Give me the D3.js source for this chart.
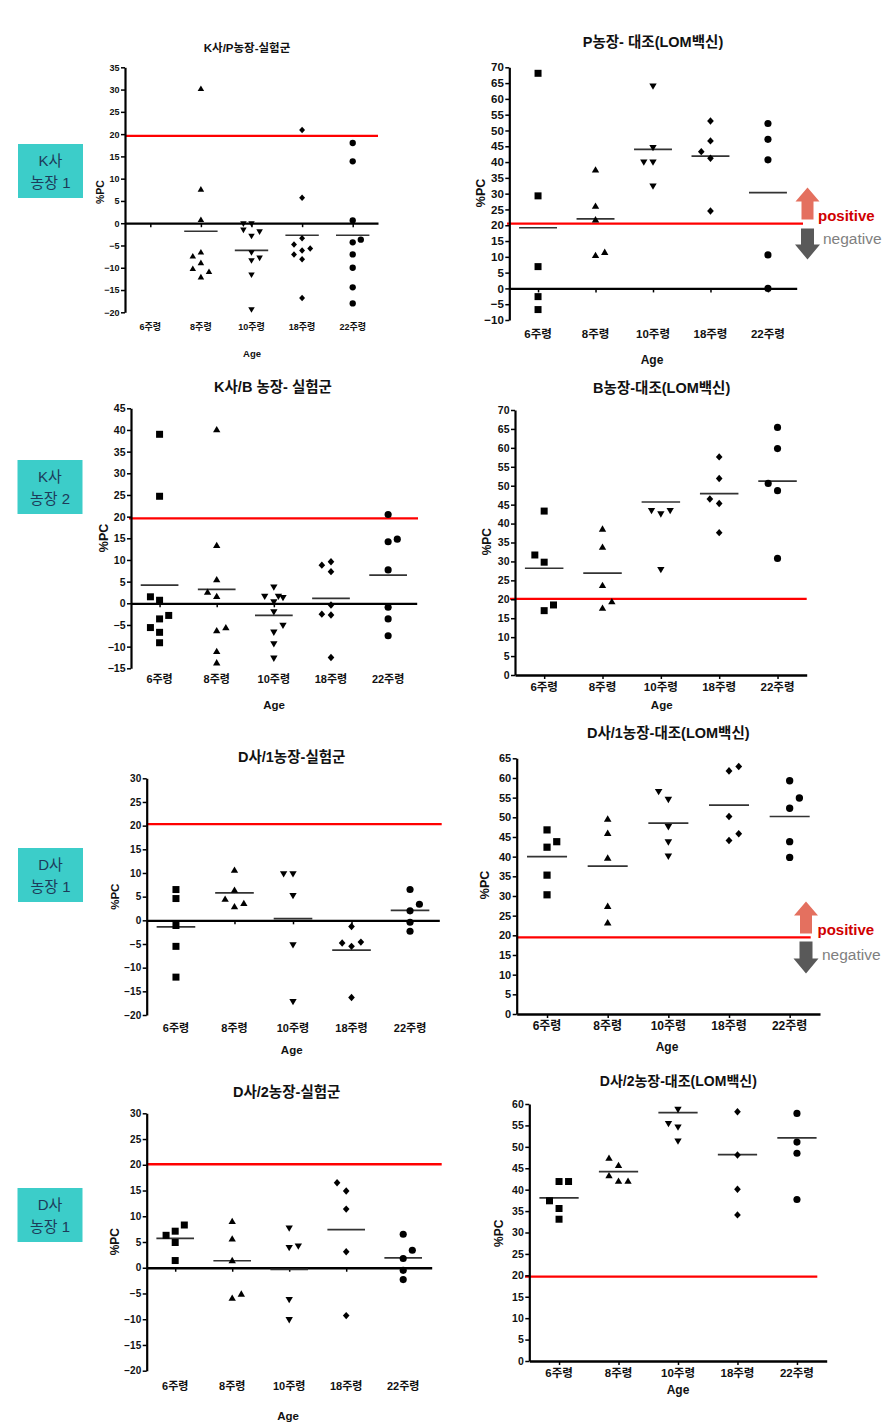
<!DOCTYPE html>
<html><head><meta charset="utf-8">
<script src="https://cdn.jsdelivr.net/npm/d3@7"></script>
<style>
body{margin:0;background:#fff}
svg{display:block}
text{font-family:"Liberation Sans","Noto Sans CJK KR",Arial,sans-serif}
</style>
</head><body>
<svg id="c" width="895" height="1428"></svg>
<script>
// ---------------- DATA ----------------
const categories = ["6주령", "8주령", "10주령", "18주령", "22주령"];
const markerShapes = ["square", "triangleUp", "triangleDown", "diamond", "circle"];
const yTickStep = 5;

// Panel 1: K사/P농장-실험군
const p1Title = "K사/P농장-실험군";
const p1Domain = [-20, 35];
const p1Cutoff = 19.6;
const p1Values = [
  [],
  [30.3, 7.7, 0.9, -6.4, -7.3, -8.8, -10.1, -10.8, -12.0],
  [-0.2, -0.2, -1.6, -2.0, -3.0, -6.7, -7.9, -8.5, -11.7, -19.5],
  [20.9, 5.7, -3.4, -4.8, -5.7, -6.1, -7.0, -8.1, -16.8],
  [18.0, 13.9, 0.6, -3.7, -4.3, -7.0, -10.0, -14.4, -18.0]
];
const p1Slots = [
  [],
  [0, 0, 0, 0, -1, 0, -1, 1, 0],
  [-1, 0, -1, 1, 0, 0, 1, 0, 0, 0],
  [0, 0, 0, -1, 1, 0, -1, 0, 0],
  [0, 0, 0, 1, 0, 0, 0, 0, 0]
];
const p1Means = [null, -1.8, -6.1, -2.7, -2.7];

// Panel 2: P농장- 대조(LOM백신)
const p2Title = "P농장- 대조(LOM백신)";
const p2Domain = [-10, 70];
const p2Cutoff = 20.5;
const p2Values = [
  [68.1, 29.3, 6.9, -2.6, -6.7],
  [37.7, 26.2, 21.9, 10.6, 11.6],
  [63.9, 44.4, 39.8, 39.8, 32.2],
  [53.0, 46.7, 43.3, 41.2, 24.5],
  [52.2, 47.2, 40.7, 10.6, 0.0]
];
const p2Slots = [
  [0, 0, 0, 0, 0],
  [0, 0, 0, 0, 1],
  [0, 0, -1, 0, 0],
  [0, 0, -1, 0, 0],
  [0, 0, 0, 0, 0]
];
const p2Means = [19.2, 22.0, 44.0, 41.9, 30.3];

// Panel 3: K사/B 농장- 실험군
const p3Title = "K사/B 농장- 실험군";
const p3Domain = [-15, 45];
const p3Cutoff = 19.6;
const p3Values = [
  [39.0, 24.7, 1.5, 0.7, -2.8, -3.6, -5.6, -6.7, -9.1],
  [40.2, 13.5, 5.6, 2.7, 1.7, -5.5, -6.2, -11.0, -13.6],
  [3.6, 1.5, 1.5, 1.2, 0.2, -2.1, -5.2, -6.8, -9.5, -12.8],
  [9.6, 8.8, 7.3, -0.4, -2.5, -2.7, -12.5],
  [20.5, 14.8, 14.2, 7.7, -0.9, -3.6, -7.5]
];
const p3Slots = [
  [0, 0, -1, 0, 1, 0, -1, 0, 0],
  [0, 0, 0, -1, 0, 1, 0, 0, 0],
  [0, -1, 0.5, 1, 0, 0, 1, 0, 0, 0],
  [0, -1, 0, 0, -1, 0, 0],
  [0, 1, 0, 0, 0, 0, 0]
];
const p3Means = [4.2, 3.2, -2.8, 1.15, 6.5];

// Panel 4: B농장-대조(LOM백신)
const p4Title = "B농장-대조(LOM백신)";
const p4Domain = [0, 70];
const p4Cutoff = 20.1;
const p4Values = [
  [43.3, 31.7, 29.8, 18.5, 17.0],
  [38.7, 33.9, 23.8, 19.5, 17.8],
  [43.3, 42.4, 43.3, 27.7],
  [57.6, 51.9, 46.5, 45.3, 37.6],
  [65.4, 59.8, 50.6, 48.7, 30.8]
];
const p4Slots = [
  [0, -1, 0, 1, 0],
  [0, 0, 0, 1, 0],
  [-1, 0, 1, 0],
  [0, 0, -1, 0, 0],
  [0, 0, -1, 0, 0]
];
const p4Means = [28.2, 26.9, 45.7, 47.9, 51.2];

// Panel 5: D사/1농장-실험군
const p5Title = "D사/1농장-실험군";
const p5Domain = [-20, 30];
const p5Cutoff = 20.3;
const p5Values = [
  [6.5, 4.6, -1.1, -5.5, -12.0],
  [10.7, 6.5, 4.6, 3.7, 3.0],
  [9.7, 9.7, 5.1, -5.3, -17.3],
  [-1.3, -4.8, -5.5, -4.6, -16.3],
  [6.5, 3.4, 2.0, -0.4, -2.3]
];
const p5Slots = [
  [0, 0, 0, 0, 0],
  [0, 0, -1, 1, 0],
  [-1, 0, 0, 0, 0],
  [0, -1, 0, 1, 0],
  [0, 1, 0, 0, 0]
];
const p5Means = [-1.4, 5.8, 0.35, -6.3, 2.1];

// Panel 6: D사/1농장-대조(LOM백신)
const p6Title = "D사/1농장-대조(LOM백신)";
const p6Domain = [0, 65];
const p6Cutoff = 19.5;
const p6Values = [
  [46.8, 43.8, 42.4, 35.3, 30.3],
  [49.7, 46.1, 39.8, 27.5, 23.3],
  [56.4, 54.4, 47.5, 43.6, 40.0],
  [62.9, 61.8, 50.2, 45.8, 44.1],
  [59.3, 54.9, 52.3, 43.8, 39.8]
];
const p6Slots = [
  [0, 1, 0, 0, 0],
  [0, 0, 0, 0, 0],
  [-1, 0, 0, 0, 0],
  [1, 0, 0, 1, 0],
  [0, 1, 0, 0, 0]
];
const p6Means = [40.0, 37.6, 48.5, 53.1, 50.2];

// Panel 7: D사/2농장-실험군
const p7Title = "D사/2농장-실험군";
const p7Domain = [-20, 30];
const p7Cutoff = 20.1;
const p7Values = [
  [8.3, 7.1, 6.3, 4.9, 1.4],
  [9.1, 5.7, 1.5, -5.0, -5.8],
  [7.6, 4.1, 3.8, -6.3, -10.2],
  [16.5, 14.9, 11.4, 3.1, -9.3],
  [6.5, 3.4, 1.8, -0.5, -2.3]
];
const p7Slots = [
  [1, 0, -1, 0, 0],
  [0, 0, 0, 1, 0],
  [0, 1, 0, 0, 0],
  [-1, 0, 0, 0, 0],
  [0, 1, 0, 0, 0]
];
const p7Means = [5.7, 1.36, -0.3, 7.4, 1.9];

// Panel 8: D사/2농장-대조(LOM백신)
const p8Title = "D사/2농장-대조(LOM백신)";
const p8Domain = [0, 60];
const p8Cutoff = 19.7;
const p8Values = [
  [41.9, 41.9, 37.4, 35.6, 33.1],
  [47.5, 45.8, 43.4, 42.1, 42.1],
  [58.6, 55.3, 54.5, 51.2],
  [58.2, 48.1, 40.1, 34.1],
  [57.8, 51.1, 48.5, 37.7]
];
const p8Slots = [
  [0, 1, -1, 0, 0],
  [-1, 0, -1, 0, 1],
  [0, -1, 0, 0],
  [0, 0, 0, 0],
  [0, 0, 0, 0]
];
const p8Means = [38.1, 44.2, 58.0, 48.2, 52.1];

// Side labels
const groupLabels = [["K사", "농장 1"], ["K사", "농장 2"], ["D사", "농장 1"], ["D사", "농장 1"]];
const yAxisLabel = "%PC";
const xAxisLabel = "Age";
const positiveLabel = "positive";
const negativeLabel = "negative";

// ---------------- LAYOUT ----------------
const panels = [
  {title: p1Title, domain: p1Domain, cutoff: p1Cutoff, values: p1Values, slots: p1Slots, means: p1Means,
   L: {ax: 125, rx: 378, yTop: 67.3, yBot: 312.3, tx: 247, ty: 48, tfs: 11.5, cy: 327, cfs: 9, agex: 252, agey: 353, afs: 9.5,
       pcx: 100, pcy: 192, pfs: 10.5, kfs: 9, ms: 6.2, r1: 125, r2: 378}},
  {title: p2Title, domain: p2Domain, cutoff: p2Cutoff, values: p2Values, slots: p2Slots, means: p2Means,
   L: {ax: 509.3, rx: 796.7, yTop: 67.3, yBot: 320, tx: 653, ty: 42, tfs: 14.5, cy: 334, cfs: 11.5, agex: 652, agey: 360, afs: 12,
       pcx: 481, pcy: 193, pfs: 12.5, kfs: 11.5, ms: 7, r1: 507, r2: 803}},
  {title: p3Title, domain: p3Domain, cutoff: p3Cutoff, values: p3Values, slots: p3Slots, means: p3Means,
   L: {ax: 131, rx: 416.7, yTop: 408.3, yBot: 668.3, tx: 273, ty: 387, tfs: 14.5, cy: 679, cfs: 11, agex: 274, agey: 705, afs: 11.5,
       pcx: 103.5, pcy: 538, pfs: 12.5, kfs: 10.5, ms: 7, r1: 129, r2: 418}},
  {title: p4Title, domain: p4Domain, cutoff: p4Cutoff, values: p4Values, slots: p4Slots, means: p4Means,
   L: {ax: 515, rx: 806.7, yTop: 410, yBot: 675, tx: 661.7, ty: 387.7, tfs: 14.5, cy: 686.7, cfs: 11.5, agex: 661.7, agey: 705, afs: 11.5,
       pcx: 487, pcy: 541.7, pfs: 12, kfs: 10.5, ms: 7, r1: 510, r2: 806.7}},
  {title: p5Title, domain: p5Domain, cutoff: p5Cutoff, values: p5Values, slots: p5Slots, means: p5Means,
   L: {ax: 146.7, rx: 439.3, yTop: 778.3, yBot: 1015, tx: 291.7, ty: 756.7, tfs: 14.5, cy: 1027.7, cfs: 11, agex: 291.7, agey: 1050, afs: 11.5,
       pcx: 115, pcy: 896.7, pfs: 11.5, kfs: 10, ms: 7, r1: 146.7, r2: 441.7}},
  {title: p6Title, domain: p6Domain, cutoff: p6Cutoff, values: p6Values, slots: p6Slots, means: p6Means,
   L: {ax: 516.7, rx: 820, yTop: 758.3, yBot: 1014, tx: 668.3, ty: 733.3, tfs: 14.5, cy: 1026, cfs: 12, agex: 667, agey: 1047.3, afs: 12,
       pcx: 485, pcy: 885, pfs: 12.5, kfs: 11, ms: 7.2, r1: 516.7, r2: 810.7}},
  {title: p7Title, domain: p7Domain, cutoff: p7Cutoff, values: p7Values, slots: p7Slots, means: p7Means,
   L: {ax: 146.7, rx: 431.7, yTop: 1113.3, yBot: 1370.7, tx: 286.7, ty: 1091.7, tfs: 14.5, cy: 1385.7, cfs: 11, agex: 288, agey: 1415.7, afs: 11.5,
       pcx: 115, pcy: 1241.7, pfs: 12, kfs: 10, ms: 7, r1: 146.7, r2: 441.7}},
  {title: p8Title, domain: p8Domain, cutoff: p8Cutoff, values: p8Values, slots: p8Slots, means: p8Means,
   L: {ax: 529.3, rx: 826.7, yTop: 1104, yBot: 1361, tx: 678.3, ty: 1081, tfs: 14, cy: 1373.3, cfs: 11.5, agex: 678, agey: 1390, afs: 12,
       pcx: 498.5, pcy: 1233.3, pfs: 12, kfs: 10.5, ms: 7, r1: 525, r2: 817.3}}
];

const boxLayout = [
  {x: 18, y: 144, w: 65, h: 54},
  {x: 17.5, y: 460, w: 65, h: 54},
  {x: 18, y: 848, w: 65, h: 54},
  {x: 17.5, y: 1188, w: 65, h: 54}
];

const arrowLayout = [
  {cx: 807.5, upTop: 187.5, upBot: 219.5, dnTop: 228.5, dnBot: 259.5, posX: 818, posY: 221, negX: 823, negY: 244},
  {cx: 806, upTop: 901.5, upBot: 933.5, dnTop: 941.5, dnBot: 973.5, posX: 817.5, posY: 935, negX: 822, negY: 959.5}
];

// ---------------- DRAW ----------------
const svg = d3.select("#c");

function markerPath(type, s) {
  const h = s / 2;
  if (type === "square") return `M${-h},${-h}h${s}v${s}h${-s}Z`;
  if (type === "triangleUp") { const t = s * 0.45; return `M0,${-t}L${h * 1.05},${t}L${-h * 1.05},${t}Z`; }
  if (type === "triangleDown") { const t = s * 0.45; return `M0,${t}L${h * 1.05},${-t}L${-h * 1.05},${-t}Z`; }
  if (type === "diamond") { const a = h * 0.95, b = h * 1.05; return `M0,${-b}L${a},0L0,${b}L${-a},0Z`; }
  const r = h * 1.02;
  return `M${r},0A${r},${r},0,1,1,${-r},0A${r},${r},0,1,1,${r},0Z`;
}

panels.forEach(p => {
  const L = p.L;
  const g = svg.append("g");
  const y = d3.scaleLinear().domain(p.domain).range([L.yBot, L.yTop]);
  const x = d3.scalePoint().domain(categories).range([L.ax, L.rx]).padding(0.5);
  const step = x.step();

  // title
  g.append("text").attr("x", L.tx).attr("y", L.ty).attr("text-anchor", "middle")
    .attr("dominant-baseline", "central").attr("font-size", L.tfs).attr("font-weight", "bold")
    .attr("fill", "#111").text(p.title);

  // red cutoff line
  g.append("line").attr("x1", L.r1).attr("x2", L.r2).attr("y1", y(p.cutoff)).attr("y2", y(p.cutoff))
    .attr("stroke", "#ff0000").attr("stroke-width", 2.3);

  // y axis
  const ticks = d3.range(p.domain[0], p.domain[1] + 0.001, yTickStep);
  const yAxis = d3.axisLeft(y).tickValues(ticks).tickSize(4).tickSizeOuter(0).tickPadding(1.5);
  const ya = g.append("g").attr("transform", `translate(${L.ax},0)`).call(yAxis);
  ya.select(".domain").attr("stroke", "#000").attr("stroke-width", 2.2);
  ya.selectAll(".tick line").attr("stroke", "#000").attr("stroke-width", 1.5);
  ya.selectAll(".tick text").attr("font-size", L.kfs).attr("font-weight", "bold").attr("fill", "#111")
    .attr("font-family", "Liberation Sans, Arial, sans-serif");

  // x axis at zero
  const xAxis = d3.axisBottom(x).tickSize(4).tickSizeOuter(0).tickFormat("");
  const xa = g.append("g").attr("transform", `translate(0,${y(0)})`).call(xAxis);
  xa.select(".domain").attr("stroke", "#000").attr("stroke-width", 2.3);
  xa.selectAll(".tick line").attr("stroke", "#000").attr("stroke-width", 1.5);

  // category labels
  g.selectAll(".cat").data(categories).join("text")
    .attr("x", d => x(d)).attr("y", L.cy).attr("text-anchor", "middle").attr("dominant-baseline", "central")
    .attr("font-size", L.cfs).attr("font-weight", "bold").attr("fill", "#111").text(d => d);

  // axis titles
  g.append("text").attr("x", L.agex).attr("y", L.agey).attr("text-anchor", "middle").attr("dominant-baseline", "central")
    .attr("font-size", L.afs).attr("font-weight", "bold").attr("fill", "#111").text(xAxisLabel);
  g.append("text").attr("transform", `translate(${L.pcx},${L.pcy}) rotate(-90)`).attr("text-anchor", "middle")
    .attr("dominant-baseline", "central").attr("font-size", L.pfs).attr("font-weight", "bold").attr("fill", "#111")
    .text(yAxisLabel);

  // mean lines
  const meanData = categories.map((c, i) => ({c, m: p.means[i]})).filter(d => d.m !== null);
  g.selectAll(".mean").data(meanData).join("line")
    .attr("x1", d => x(d.c) - step * 0.33).attr("x2", d => x(d.c) + step * 0.33)
    .attr("y1", d => y(d.m)).attr("y2", d => y(d.m))
    .attr("stroke", "#333").attr("stroke-width", 1.7);

  // points
  const pts = [];
  categories.forEach((c, i) => {
    p.values[i].forEach((v, j) => pts.push({c, v, s: p.slots[i][j], shape: markerShapes[i]}));
  });
  g.selectAll(".pt").data(pts).join("path")
    .attr("d", d => markerPath(d.shape, L.ms))
    .attr("transform", d => `translate(${x(d.c) + d.s * step * 0.16},${y(d.v)})`)
    .attr("fill", "#000");
});

// side group boxes
boxLayout.forEach((b, i) => {
  svg.append("rect").attr("x", b.x).attr("y", b.y).attr("width", b.w).attr("height", b.h).attr("fill", "#3ccdc9");
  const t = svg.append("text").attr("text-anchor", "middle").attr("font-size", 15)
    .attr("font-family", "Noto Sans CJK KR, sans-serif").attr("fill", "#1d3b5a");
  t.append("tspan").attr("x", b.x + b.w / 2).attr("y", b.y + 22).text(groupLabels[i][0]);
  t.append("tspan").attr("x", b.x + b.w / 2).attr("y", b.y + 44).text(groupLabels[i][1]);
});

// positive / negative arrows
function blockArrow(cx, top, bot, dir, headW, headH, shaftW, color) {
  let d;
  if (dir === "up") {
    d = `M${cx},${top}L${cx + headW / 2},${top + headH}L${cx + shaftW / 2},${top + headH}L${cx + shaftW / 2},${bot}` +
        `L${cx - shaftW / 2},${bot}L${cx - shaftW / 2},${top + headH}L${cx - headW / 2},${top + headH}Z`;
  } else {
    d = `M${cx},${bot}L${cx + headW / 2},${bot - headH}L${cx + shaftW / 2},${bot - headH}L${cx + shaftW / 2},${top}` +
        `L${cx - shaftW / 2},${top}L${cx - shaftW / 2},${bot - headH}L${cx - headW / 2},${bot - headH}Z`;
  }
  svg.append("path").attr("d", d).attr("fill", color);
}
arrowLayout.forEach(a => {
  blockArrow(a.cx, a.upTop, a.upBot, "up", 24, 14, 12, "#e4705f");
  blockArrow(a.cx, a.dnTop, a.dnBot, "down", 25, 15, 13, "#595959");
  svg.append("text").attr("x", a.posX).attr("y", a.posY).attr("font-size", 15).attr("font-weight", "bold")
    .attr("font-family", "Noto Sans, sans-serif").attr("fill", "#d00000").text(positiveLabel);
  svg.append("text").attr("x", a.negX).attr("y", a.negY).attr("font-size", 15.5)
    .attr("font-family", "Noto Sans, sans-serif").attr("fill", "#7f7f7f").text(negativeLabel);
});
</script>
</body></html>
